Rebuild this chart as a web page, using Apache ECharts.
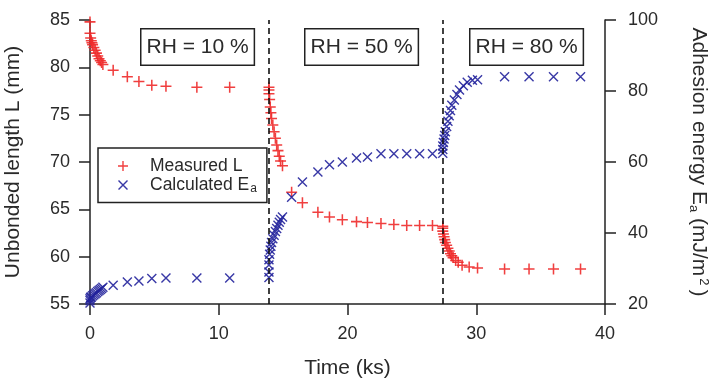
<!DOCTYPE html>
<html>
<head>
<meta charset="utf-8">
<script src="https://cdn.jsdelivr.net/npm/echarts@6/dist/echarts.min.js"></script>
<style>
html, body { margin: 0; padding: 0; background: #fff; }
#main { width: 720px; height: 380px; }
</style>
</head>
<body>
<div id="main"></div>
<script>
// Measured L (mm) vs time (ks)
var measuredT = [0, 0, 0.05, 0.1, 0.15, 0.2, 0.3, 0.4, 0.5, 0.6, 0.7, 0.8, 0.9, 1.0, 1.8, 2.9, 3.8, 4.8, 5.9, 8.3, 10.85,
    13.9, 13.9, 13.9, 13.95, 14.0, 14.05, 14.1, 14.2, 14.3, 14.4, 14.5, 14.6, 14.7, 14.8, 14.95,
    15.66, 16.5, 17.7, 18.6, 19.6, 20.7, 21.55, 22.6, 23.6, 24.6, 25.6, 26.6,
    27.4, 27.4, 27.4, 27.45, 27.5, 27.55, 27.6, 27.7, 27.8, 27.9, 28.0, 28.1, 28.2, 28.4, 28.6, 28.9, 29.45, 30.1, 32.2, 34.1, 36.0, 38.1];
var measuredL = [84.8, 83.6, 83.1, 82.8, 82.6, 82.4, 82.1, 81.8, 81.5, 81.2, 80.9, 80.7, 80.5, 80.3, 79.7, 79.0, 78.5, 78.1, 78.0, 77.9, 77.9,
    77.9, 77.6, 77.2, 76.6, 75.8, 75.2, 74.6, 73.9, 73.2, 72.5, 71.8, 71.2, 70.6, 70.1, 69.6,
    66.8, 65.7, 64.7, 64.2, 63.9, 63.7, 63.6, 63.5, 63.4, 63.3, 63.3, 63.3,
    63.2, 63.0, 62.7, 62.4, 62.1, 61.8, 61.5, 61.2, 60.9, 60.6, 60.3, 60.1, 59.9, 59.6, 59.4, 59.1, 58.9, 58.8, 58.7, 58.7, 58.7, 58.7];

// Calculated Ea (mJ/m2) vs time (ks)
var calcT = [0, 0, 0, 0.05, 0.1, 0.2, 0.3, 0.4, 0.5, 0.6, 0.7, 0.8, 0.9, 1.0, 1.8, 2.9, 3.8, 4.8, 5.9, 8.3, 10.85,
    13.9, 13.9, 13.9, 13.9, 13.95, 14.0, 14.05, 14.1, 14.2, 14.3, 14.4, 14.5, 14.6, 14.7, 14.8, 14.95,
    15.66, 16.5, 17.7, 18.6, 19.6, 20.7, 21.55, 22.6, 23.6, 24.6, 25.6, 26.6,
    27.4, 27.4, 27.4, 27.45, 27.5, 27.55, 27.6, 27.7, 27.8, 27.9, 28.0, 28.1, 28.3, 28.5, 28.7, 29.0, 29.3, 29.7, 30.1, 32.2, 34.1, 36.0, 38.1];
var calcE = [20.3, 21.0, 21.5, 21.8, 22.0, 22.3, 22.6, 22.9, 23.2, 23.5, 23.8, 24.1, 24.4, 24.7, 25.3, 26.2, 26.5, 27.2, 27.3, 27.3, 27.3,
    27.5, 29.0, 31.0, 32.5, 34.0, 35.2, 36.3, 37.3, 38.4, 39.4, 40.4, 41.3, 42.2, 43.0, 43.8, 44.5,
    50.1, 54.4, 57.2, 59.2, 60.0, 61.1, 61.4, 62.3, 62.3, 62.3, 62.3, 62.3,
    62.5, 63.5, 64.5, 65.5, 66.5, 67.5, 68.5, 70.0, 71.5, 73.0, 74.5, 76.0, 77.5, 79.0, 80.3, 81.5, 82.5, 83.0, 83.2, 84.0, 84.0, 84.0, 84.0];

// humidity changes (ks) and labels
var rhChangeT = [13.9, 27.4];
var rhLabels = ['RH = 10 %', 'RH = 50 %', 'RH = 80 %'];

var xTicks = { min: 0, max: 40, interval: 10 };
var lTicks = { min: 55, max: 85, interval: 5 };
var eTicks = { min: 20, max: 100, interval: 20 };

var FONT = '"Liberation Sans", Arial, sans-serif';
var RED = '#ee2a2a';
var BLUE = '#23239c';
var INK = '#222';
var TEXT = '#2a2a2a';

var plusPath = 'path://M4.3,0h1.4v10h-1.4z M0,4.3h10v1.4h-10z';
var crossPath = 'path://M0,1L1,0L10,9L9,10z M9,0L10,1L1,10L0,9z';

function zip(a, b) {
    var out = [];
    for (var i = 0; i < a.length; i++) {
        out.push([a[i], b[i]]);
    }
    return out;
}

function axisCommon() {
    return {
        axisLine: { show: true, lineStyle: { color: INK, width: 1.5 } },
        axisTick: { show: true, inside: false, length: 11, lineStyle: { color: INK, width: 1.5 } },
        axisLabel: { color: TEXT, fontSize: 18, fontFamily: FONT },
        splitLine: { show: false },
        nameTextStyle: { color: TEXT, fontSize: 21, fontFamily: FONT }
    };
}

function rhBox(text, left) {
    return {
        type: 'text',
        left: left,
        top: 28,
        style: {
            text: text,
            font: '21px ' + FONT,
            lineHeight: 22,
            fill: TEXT,
            backgroundColor: '#fff',
            borderColor: '#222',
            borderWidth: 1.5,
            padding: [7, 5, 6, 5]
        },
        z: 10
    };
}

var myChart = echarts.init(document.getElementById('main'));

var xAxis = axisCommon();
xAxis.type = 'value';
xAxis.min = xTicks.min;
xAxis.max = xTicks.max;
xAxis.interval = xTicks.interval;
xAxis.name = 'Time (ks)';
xAxis.nameLocation = 'middle';
xAxis.nameGap = 54;
xAxis.axisLabel.margin = 21;

var yLeft = axisCommon();
yLeft.type = 'value';
yLeft.position = 'left';
yLeft.min = lTicks.min;
yLeft.max = lTicks.max;
yLeft.interval = lTicks.interval;
yLeft.name = 'Unbonded length L (mm)';
yLeft.nameLocation = 'middle';
yLeft.nameRotate = 90;
yLeft.nameGap = 66;
yLeft.axisLabel.margin = 20;

var yRight = axisCommon();
yRight.type = 'value';
yRight.position = 'right';
yRight.min = eTicks.min;
yRight.max = eTicks.max;
yRight.interval = eTicks.interval;
yRight.name = 'Adhesion energy E{sub|a} (mJ/m{sup|2})';
yRight.nameLocation = 'middle';
yRight.nameRotate = -90;
yRight.nameGap = 82;
yRight.axisLabel.margin = 23;
yRight.nameTextStyle.rich = {
    sub: { fontSize: 13, fontFamily: FONT, color: TEXT, verticalAlign: 'bottom', padding: [8, 0, 0, 0] },
    sup: { fontSize: 13, fontFamily: FONT, color: TEXT, verticalAlign: 'top', padding: [0, 4, 10, 2] }
};

var option = {
    animation: false,
    backgroundColor: '#fff',
    grid: { left: 90, right: 115, top: 20, bottom: 76, outerBoundsMode: 'none', containLabel: false },
    xAxis: xAxis,
    yAxis: [yLeft, yRight],
    legend: {
        orient: 'vertical',
        left: 98,
        top: 148,
        padding: [9, 10, 8, 20],
        itemGap: 1,
        itemWidth: 10,
        itemHeight: 10,
        borderColor: '#222',
        borderWidth: 1.5,
        backgroundColor: '#fff',
        data: ['Measured L', 'Calculated Ea'],
        formatter: function(name) {
            if (name == 'Calculated Ea') {
                return 'Calculated E{sub|a}';
            }
            return name;
        },
        textStyle: {
            color: TEXT,
            fontSize: 17.5,
            fontFamily: FONT,
            padding: [0, 0, 0, 17],
            rich: {
                sub: { fontSize: 12, fontFamily: FONT, color: TEXT, verticalAlign: 'bottom', padding: [7, 0, 0, 1] }
            }
        }
    },
    graphic: [
        rhBox(rhLabels[0], 140),
        rhBox(rhLabels[1], 304),
        rhBox(rhLabels[2], 469)
    ],
    series: [
        {
            name: 'Measured L',
            type: 'scatter',
            yAxisIndex: 0,
            symbol: plusPath,
            symbolSize: 11,
            itemStyle: { color: RED, opacity: 0.9 },
            data: zip(measuredT, measuredL),
            z: 3,
            markLine: {
                silent: true,
                symbol: ['none', 'none'],
                label: { show: false },
                lineStyle: { color: '#111', width: 1.6, type: [6, 4] },
                data: rhChangeT.map(function(t) { return { xAxis: t }; })
            }
        },
        {
            name: 'Calculated Ea',
            type: 'scatter',
            yAxisIndex: 1,
            symbol: crossPath,
            symbolSize: 10,
            itemStyle: { color: BLUE, opacity: 0.9 },
            data: zip(calcT, calcE),
            z: 4
        }
    ]
};

myChart.setOption(option);
</script>
</body>
</html>
